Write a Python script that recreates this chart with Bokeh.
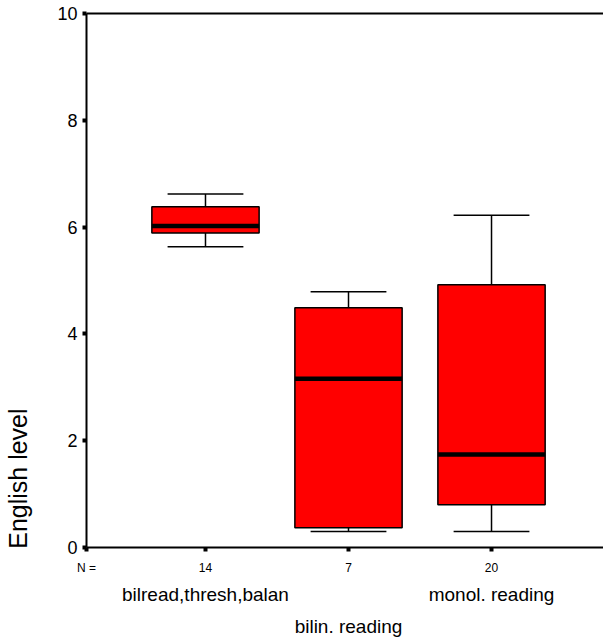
from bokeh.plotting import figure
from bokeh.models import Range1d, LinearAxis, FixedTicker
from bokeh.embed import file_html
from bokeh.resources import INLINE

# ---- data ----
categories = ["bilread,thresh,balan", "bilin. reading", "monol. reading"]
n_counts = [14, 7, 20]
lower_whisker = [5.63, 0.30, 0.30]
q1 = [5.89, 0.37, 0.80]
median = [6.02, 3.16, 1.74]
q3 = [6.38, 4.49, 4.92]
upper_whisker = [6.62, 4.79, 6.22]
y_ticks = [0, 2, 4, 6, 8, 10]
y_title = "English level"
y_title_at = 1.29  # vertical centre of the title, in data units (as in the reference)

FONT = "Liberation Sans"
X0, X1 = 0.168, 3.783
xs = [i + 1 for i in range(len(categories))]
box_w = 0.75
cap_w = 0.53

p = figure(width=603, height=639, output_backend="svg", toolbar_location=None,
           x_range=Range1d(X0, X1), y_range=Range1d(0, 10),
           x_axis_type=None, y_axis_type=None,
           min_border_left=86, min_border_right=0, min_border_top=13, min_border_bottom=91)
p.outline_line_color = None
p.xgrid.visible = False
p.ygrid.visible = False
p.background_fill_color = "white"
p.border_fill_color = "white"

# whiskers
p.segment(x0=xs, y0=q3, x1=xs, y1=upper_whisker, line_color="black", line_width=1.5)
p.segment(x0=xs, y0=lower_whisker, x1=xs, y1=q1, line_color="black", line_width=1.5)
p.segment(x0=[x - cap_w / 2 for x in xs], y0=upper_whisker,
          x1=[x + cap_w / 2 for x in xs], y1=upper_whisker, line_color="black", line_width=1.5)
p.segment(x0=[x - cap_w / 2 for x in xs], y0=lower_whisker,
          x1=[x + cap_w / 2 for x in xs], y1=lower_whisker, line_color="black", line_width=1.5)
# boxes
p.vbar(x=xs, width=box_w, top=q3, bottom=q1, fill_color="#FF0000",
       line_color="black", line_width=1.5)
# medians
p.segment(x0=[x - box_w / 2 for x in xs], y0=median,
          x1=[x + box_w / 2 for x in xs], y1=median, line_color="black", line_width=4.5)

# y axis
yax = LinearAxis(ticker=FixedTicker(ticks=y_ticks))
yax.axis_line_width = 2
yax.major_tick_in = 0
yax.major_tick_out = 4
yax.major_tick_line_width = 4
yax.minor_tick_line_color = None
yax.major_label_text_font = FONT
yax.major_label_text_font_size = "18px"
yax.major_label_text_color = "black"
yax.major_label_standoff = 5
p.add_layout(yax, "left")

# y title as a rotated label of a bare axis, placed low as in the reference
ytax = LinearAxis(ticker=FixedTicker(ticks=[y_title_at]))
ytax.major_label_overrides = {y_title_at: y_title}
ytax.major_label_orientation = "vertical"
ytax.axis_line_color = None
ytax.major_tick_line_color = None
ytax.minor_tick_line_color = None
ytax.major_tick_out = 0
ytax.major_tick_in = 0
ytax.major_label_text_font = FONT
ytax.major_label_text_font_size = "25px"
ytax.major_label_text_color = "black"
ytax.major_label_standoff = 22
p.add_layout(ytax, "left")

# x axis: N counts as tick labels, "N =" at the left corner
xax = LinearAxis(ticker=FixedTicker(ticks=[X0] + xs))
overrides = {X0: "N ="}
overrides.update({x: str(n) for x, n in zip(xs, n_counts)})
xax.major_label_overrides = overrides
xax.axis_line_width = 2
xax.major_tick_in = 0
xax.major_tick_out = 4
xax.major_tick_line_width = 4
xax.minor_tick_line_color = None
xax.major_label_text_font = FONT
xax.major_label_text_font_size = "12px"
xax.major_label_text_color = "black"
xax.major_label_standoff = 9
p.add_layout(xax, "below")

# category names, staggered on two rows
cat_row1 = LinearAxis(ticker=FixedTicker(ticks=[xs[0], xs[2]]))
cat_row1.major_label_overrides = {xs[0]: categories[0], xs[2]: categories[2]}
cat_row2 = LinearAxis(ticker=FixedTicker(ticks=[xs[1]]))
cat_row2.major_label_overrides = {xs[1]: categories[1]}
for ax, so in ((cat_row1, 6), (cat_row2, 8)):
    ax.axis_line_color = None
    ax.major_tick_line_color = None
    ax.minor_tick_line_color = None
    ax.major_tick_out = 0
    ax.major_tick_in = 0
    ax.major_label_text_font = FONT
    ax.major_label_text_font_size = "19px"
    ax.major_label_text_color = "black"
    ax.major_label_standoff = so
    p.add_layout(ax, "below")

# top frame line
tax = LinearAxis(ticker=FixedTicker(ticks=[]))
tax.axis_line_width = 2
tax.major_tick_out = 0
tax.major_tick_in = 0
tax.minor_tick_line_color = None
tax.major_label_standoff = 0
tax.major_label_text_font_size = "0px"
p.add_layout(tax, "above")

open("out.html", "w").write(file_html(p, INLINE))
